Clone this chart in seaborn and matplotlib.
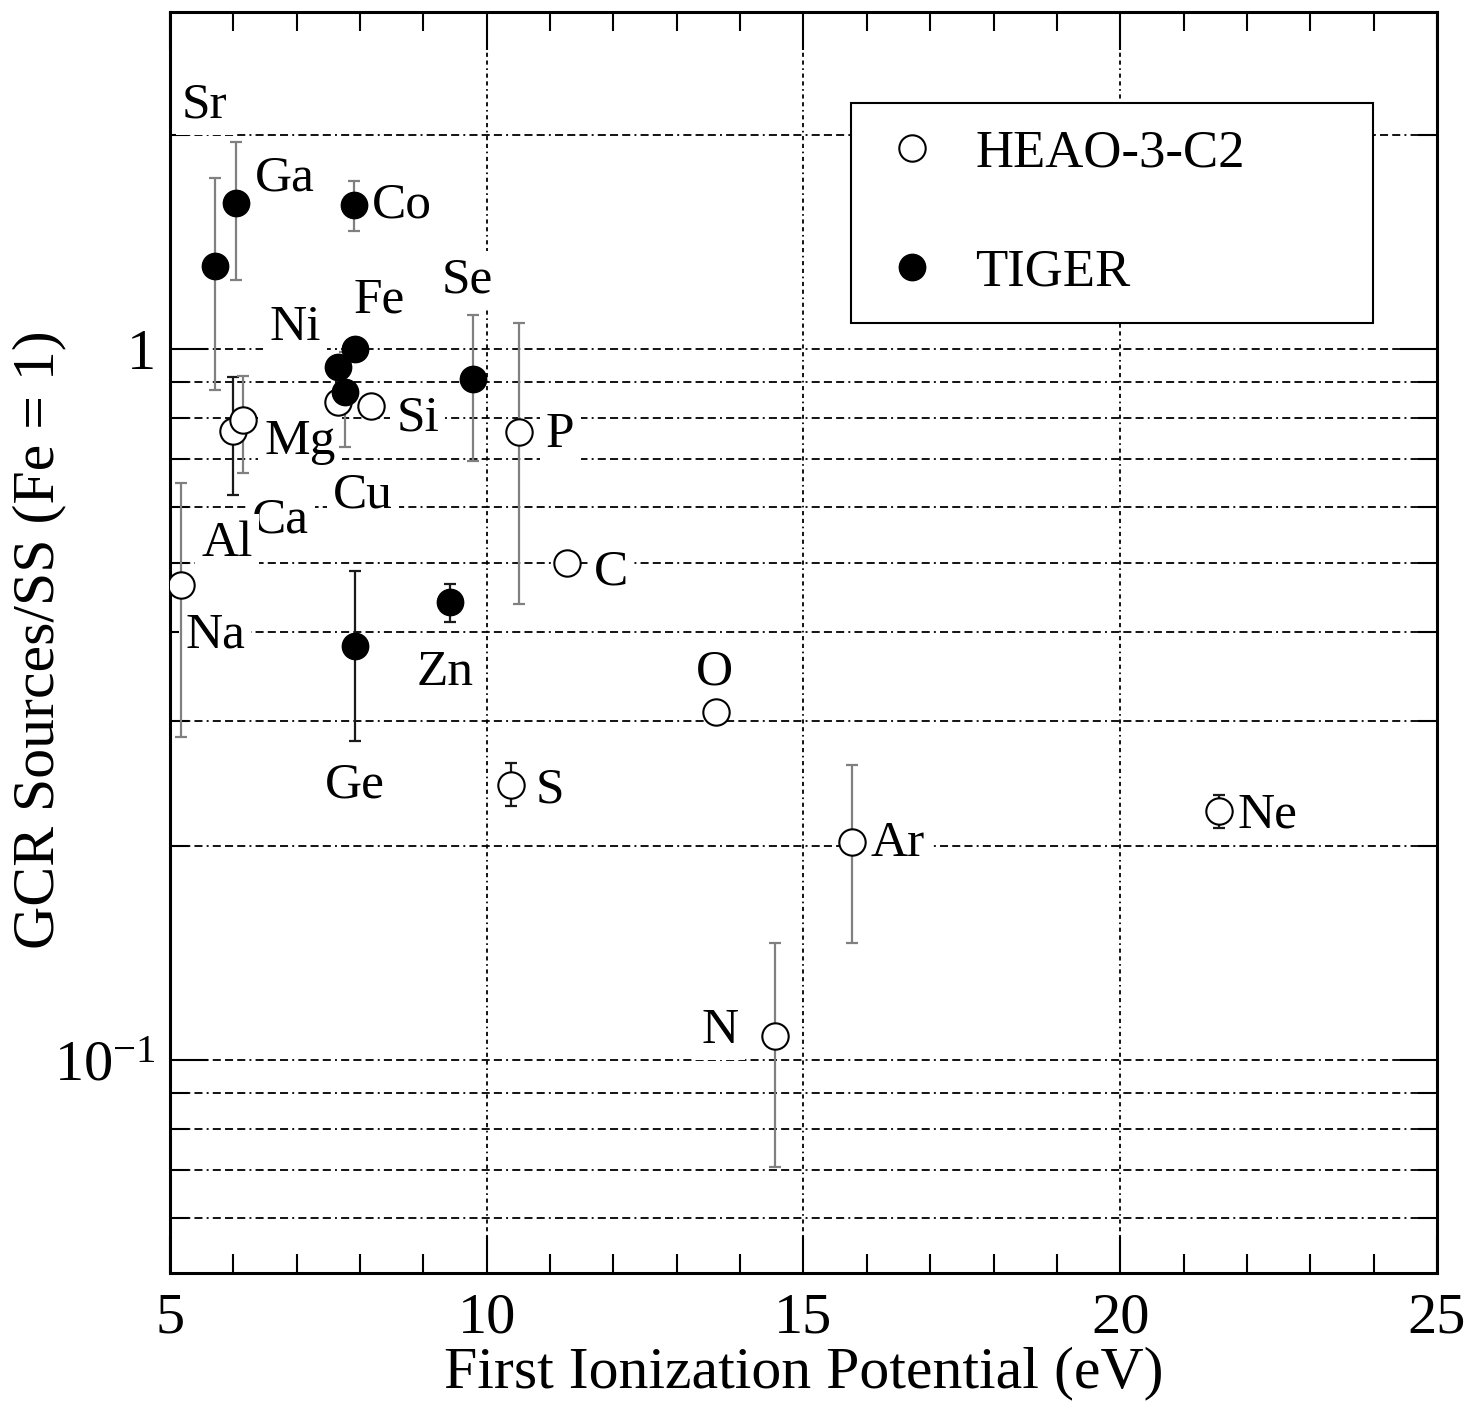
import numpy as np
import pandas as pd
import matplotlib
matplotlib.use("Agg")
import matplotlib.pyplot as plt
import matplotlib.ticker as mticker
from matplotlib.lines import Line2D
import seaborn as sns

# ---- HEAO-3-C2 (open circles) ----
heao_elements = ["Na", "Al", "Ca", "Mg", "Si", "P", "C", "S", "O", "N", "Ar", "Ne"]
heao_fip = [5.17, 5.99, 6.15, 7.65, 8.17, 10.51, 11.27, 10.38, 13.62, 14.55, 15.77, 21.56]
heao_ratio = [0.466, 0.767, 0.795, 0.842, 0.831, 0.764, 0.500, 0.244, 0.309, 0.108, 0.203, 0.224]
heao_low = [0.285, 0.623, 0.669, np.nan, np.nan, 0.438, np.nan, 0.228, np.nan, 0.0707, 0.146, 0.212]
heao_high = [0.648, 0.913, 0.916, np.nan, np.nan, 1.088, np.nan, 0.262, np.nan, 0.146, 0.260, 0.236]
heao_errcolor = ["gray", "black", "gray", "gray", "gray", "gray", "gray", "black", "gray", "gray", "gray", "black"]

# ---- TIGER (filled circles) ----
tiger_elements = ["Sr", "Ga", "Co", "Fe", "Ni", "Cu", "Se", "Zn", "Ge"]
tiger_fip = [5.71, 6.04, 7.90, 7.92, 7.65, 7.76, 9.78, 9.42, 7.92]
tiger_ratio = [1.308, 1.605, 1.594, 1.000, 0.943, 0.870, 0.907, 0.441, 0.383]
tiger_low = [0.876, 1.25, 1.465, np.nan, np.nan, 0.728, 0.696, 0.413, 0.281]
tiger_high = [1.74, 1.954, 1.723, np.nan, np.nan, 0.99, 1.116, 0.467, 0.487]
tiger_errcolor = ["gray", "gray", "gray", "gray", "gray", "gray", "gray", "black", "black"]

# ---- element name annotations ----
label_text = ["Sr", "Ga", "Co", "Se", "Fe", "Ni", "Si", "Mg", "P", "Cu", "Ca", "Al",
              "C", "Na", "Zn", "O", "Ge", "S", "Ar", "Ne", "N"]
label_x = [5.55, 6.82, 8.66, 9.69, 8.31, 6.97, 8.91, 7.05, 11.16, 8.05, 6.74, 5.90,
           11.96, 5.71, 9.34, 13.60, 7.92, 11.0, 16.49, 22.33, 13.68]
label_y = [2.20, 1.74, 1.594, 1.25, 1.172, 1.070, 0.80, 0.740, 0.757, 0.623, 0.575, 0.533,
           0.486, 0.396, 0.351, 0.351, 0.2436, 0.240, 0.2018, 0.221, 0.110]

heao = pd.DataFrame({"element": heao_elements, "fip": heao_fip, "ratio": heao_ratio,
                     "low": heao_low, "high": heao_high, "ecolor": heao_errcolor})
tiger = pd.DataFrame({"element": tiger_elements, "fip": tiger_fip, "ratio": tiger_ratio,
                      "low": tiger_low, "high": tiger_high, "ecolor": tiger_errcolor})

sns.set_theme(style="ticks")
plt.rcParams["font.family"] = ["Liberation Serif", "DejaVu Serif"]
plt.rcParams["mathtext.fontset"] = "custom"
plt.rcParams["mathtext.rm"] = "Liberation Serif"
plt.rcParams["mathtext.it"] = "Liberation Serif:italic"
plt.rcParams["lines.scale_dashes"] = False
for key in ("text.color", "axes.labelcolor", "xtick.color", "ytick.color", "axes.edgecolor"):
    plt.rcParams[key] = "black"

fig = plt.figure(figsize=(14.69, 14.06), dpi=100)
ax = fig.add_axes([0.1157, 0.0946, 0.9782 - 0.1157, 0.9915 - 0.0946])
ax.set_yscale("log")
ax.set_xlim(5, 25)
ax.set_ylim(0.0502, 2.98)

GRAY = "#808080"
DARK = "#1a1a1a"

# error bars
for df in (heao, tiger):
    for _, r in df.dropna(subset=["low"]).iterrows():
        c = GRAY if r["ecolor"] == "gray" else DARK
        ax.errorbar([r["fip"]], [r["ratio"]],
                    yerr=[[r["ratio"] - r["low"]], [r["high"] - r["ratio"]]],
                    fmt="none", ecolor=c, elinewidth=1.6, capsize=4.5, capthick=1.6,
                    zorder=3)

msize = 360
sns.scatterplot(data=heao, x="fip", y="ratio", marker="o", s=msize,
                facecolor="white", edgecolor="black", linewidth=1.5,
                ax=ax, zorder=4, legend=False)
sns.scatterplot(data=tiger, x="fip", y="ratio", marker="o", s=msize,
                color="black", edgecolor="black", linewidth=1.0,
                ax=ax, zorder=5, legend=False)

for t, x, y in zip(label_text, label_x, label_y):
    ax.text(x, y, t, ha="center", va="center", fontsize=37, zorder=2.5,
            bbox=dict(boxstyle="square,pad=0.12", facecolor="white", edgecolor="none"))

# grid
hdash = (0, (5.8, 3.0, 5.8, 3.0, 5.8, 3.0, 1.4, 3.0))
vdash = (0, (3.0, 2.6, 3.0, 2.6, 1.2, 2.6))
ax.yaxis.set_major_locator(mticker.FixedLocator([0.1, 1.0]))
ax.yaxis.set_minor_locator(mticker.LogLocator(base=10, subs=np.arange(2, 10)))
ax.yaxis.set_major_formatter(mticker.FuncFormatter(
    lambda v, p: "1" if abs(v - 1) < 1e-9 else r"$\mathregular{10^{-1}}$"))
ax.yaxis.set_minor_formatter(mticker.NullFormatter())
ax.xaxis.set_major_locator(mticker.MultipleLocator(5))
ax.xaxis.set_minor_locator(mticker.MultipleLocator(1))
ax.xaxis.set_major_formatter(mticker.FormatStrFormatter("%d"))

ax.grid(False)
ax.yaxis.grid(True, which="both", color="black", linewidth=1.3, linestyle=hdash, zorder=0.5)
ax.xaxis.grid(True, which="major", color="black", linewidth=1.3, linestyle=vdash, zorder=0.5)
ax.set_axisbelow(True)

ax.tick_params(axis="both", which="both", direction="in", top=True, right=True,
               colors="black", width=1.5)
ax.tick_params(axis="both", which="major", length=27, labelsize=42)
ax.tick_params(axis="both", which="minor", length=14)
ax.tick_params(axis="x", which="major", pad=14)
ax.tick_params(axis="y", which="major", pad=10)

for s in ax.spines.values():
    s.set_linewidth(2.2)
    s.set_color("black")

ax.set_xlabel("First Ionization Potential (eV)", fontsize=43)
ax.xaxis.set_label_coords(0.5, -0.058)
ax.set_ylabel("GCR Sources/SS (Fe = 1)", fontsize=43)
ax.yaxis.set_label_coords(-0.082, 0.502)

handles = [
    Line2D([], [], linestyle="none", marker="o", markersize=19, markerfacecolor="white",
           markeredgecolor="black", markeredgewidth=1.5),
    Line2D([], [], linestyle="none", marker="o", markersize=19, markerfacecolor="black",
           markeredgecolor="black"),
]
leg = ax.legend(handles, ["HEAO-3-C2", "TIGER"], loc="upper left",
                bbox_to_anchor=(0.5375, 0.7534, 0.412, 0.1744), mode="expand",
                borderaxespad=0, fontsize=38, frameon=True, fancybox=False,
                edgecolor="black", framealpha=1, borderpad=0.5, labelspacing=1.35,
                handlelength=1.3, handletextpad=0.55)
leg.get_frame().set_linewidth(1.5)
leg.set_zorder(6)

fig.savefig("out.png", dpi=100, facecolor="white")
